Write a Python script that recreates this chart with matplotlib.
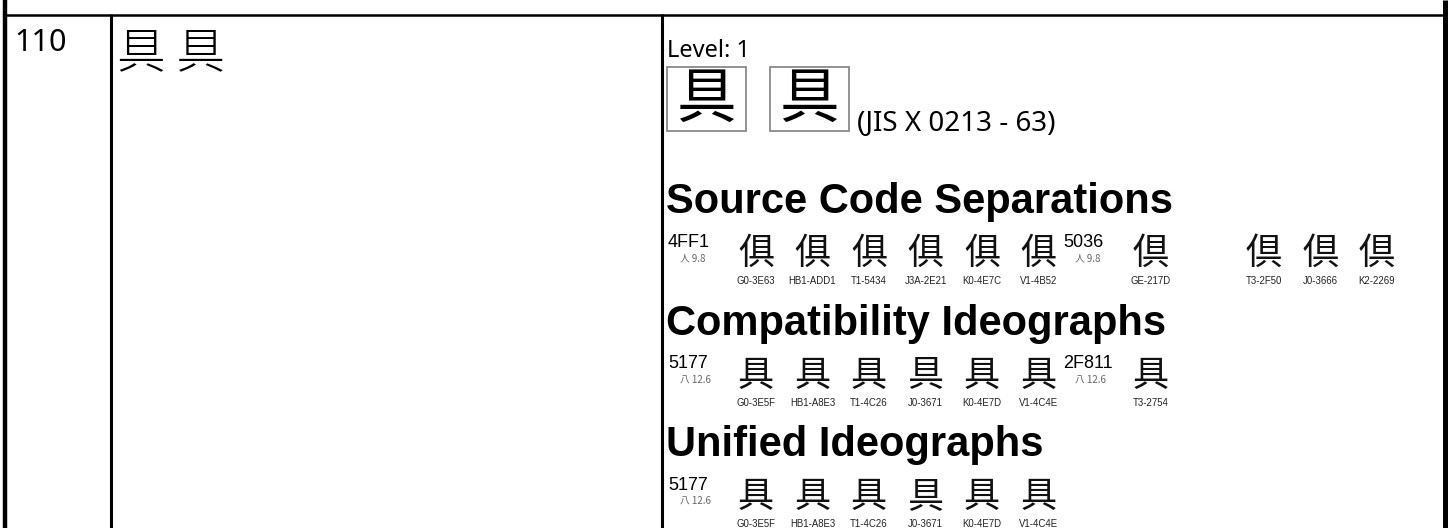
#!/usr/bin/env python3
"""Redraw one row of an ideograph variant table (entry 110, 具)."""

import matplotlib

matplotlib.use("Agg")
import matplotlib.pyplot as plt
from matplotlib import font_manager
from matplotlib.patches import Rectangle

# ---- data -------------------------------------------------------------
entry_no = "110"
entry_glyphs = ["具", "具"]
level = 1
jis_note = "(JIS X 0213 - 63)"
section_titles = ["Source Code Separations", "Compatibility Ideographs", "Unified Ideographs"]

# each section: groups of (code point, radical/stroke note, shown glyph, source ids)
# empty string = no source in that slot (order G, H, T, J, K, V)
source_codes = ["4FF1", "5036"]
source_radicals = ["人 9.8", "人 9.8"]
source_glyphs = ["俱", "倶"]
source_ids = [
    ["G0-3E63", "HB1-ADD1", "T1-5434", "J3A-2E21", "K0-4E7C", "V1-4B52"],
    ["GE-217D", "", "T3-2F50", "J0-3666", "K2-2269"],
]

compat_codes = ["5177", "2F811"]
compat_radicals = ["八 12.6", "八 12.6"]
compat_glyphs = ["具", "具"]
compat_ids = [
    ["G0-3E5F", "HB1-A8E3", "T1-4C26", "J0-3671", "K0-4E7D", "V1-4C4E"],
    ["T3-2754"],
]

unified_codes = ["5177"]
unified_radicals = ["八 12.6"]
unified_glyphs = ["具"]
unified_ids = [
    ["G0-3E5F", "HB1-A8E3", "T1-4C26", "J0-3671", "K0-4E7D", "V1-4C4E"],
]

# ---- fonts --------------------------------------------------------------
installed = {f.name for f in font_manager.fontManager.ttflist}
narrow = "Liberation Sans Narrow" if "Liberation Sans Narrow" in installed else "Liberation Sans"
label_size = 9.0 if narrow == "Liberation Sans Narrow" else 6.9

# source prefix -> regional CJK face
region_font = {
    "G": "Noto Sans CJK SC",
    "H": "Noto Sans CJK TC",
    "T": "Noto Sans CJK TC",
    "J": "Noto Sans CJK JP",
    "K": "Noto Sans CJK KR",
    "V": "Noto Sans CJK SC",
}

W, H = 1452, 528
fig = plt.figure(figsize=(W / 100, H / 100), dpi=100)
ax = fig.add_axes([0, 0, 1, 1])
ax.set_xlim(0, W)
ax.set_ylim(H, 0)
ax.axis("off")

# ---- table lines --------------------------------------------------------
ax.plot([5, 5], [0, H], color="black", lw=3.2, solid_capstyle="butt")
ax.plot([1444.5, 1444.5], [0, H], color="black", lw=3.6, solid_capstyle="butt")
ax.plot([5, 1444], [14.5, 14.5], color="black", lw=1.8, solid_capstyle="butt")
ax.plot([110.5, 110.5], [14, H], color="black", lw=2.2, solid_capstyle="butt")
ax.plot([662, 662], [14, H], color="black", lw=2.2, solid_capstyle="butt")

# ---- first two columns --------------------------------------------------
ax.text(14, 51, entry_no, fontsize=22, family="Noto Sans", weight="light",
        va="baseline", ha="left")
ax.text(117, 53, " ".join(entry_glyphs), fontsize=35, family="Noto Sans CJK JP",
        weight="light", va="center", ha="left")

# ---- third column header ----------------------------------------------
ax.text(667, 57, f"Level: {level}", fontsize=17, family="Noto Sans", va="baseline")
for bx in (667, 770):
    ax.add_patch(Rectangle((bx, 67), 79, 64, fill=False, edgecolor="#8a8a8a", lw=1.3))
    ax.text(bx + 39.5, 100, entry_glyphs[0], fontsize=43, family="Noto Sans CJK JP",
            ha="center", va="center")
ax.text(857, 131, jis_note, fontsize=20, family="Noto Sans", va="baseline")

# ---- sections -----------------------------------------------------------
sections = [
    (source_codes, source_radicals, source_glyphs, source_ids),
    (compat_codes, compat_radicals, compat_glyphs, compat_ids),
    (unified_codes, unified_radicals, unified_glyphs, unified_ids),
]
group_x = [668, 1063]
slot_step = 56.5

for s, (title, (codes, rads, glyphs, ids)) in enumerate(zip(section_titles, sections)):
    top = 121.5 * s
    ax.text(666, 213 + top, title, fontsize=30, family="Liberation Sans", weight="bold",
            va="baseline")
    for g, code in enumerate(codes):
        gx = group_x[g]
        ax.text(gx, 247 + top, code, fontsize=13, family="Liberation Sans", va="baseline")
        ax.text(gx + 12, 261 + top, rads[g], fontsize=7, color="#666666",
                family=["Noto Sans CJK JP", "DejaVu Sans"], va="baseline")
        for i, sid in enumerate(ids[g]):
            if not sid:
                continue
            cx = gx + 88 + slot_step * i
            ax.text(cx, 254 + top, glyphs[g], fontsize=26, family=region_font[sid[0]],
                    ha="center", va="center", color="#111111")
            ax.text(cx, 284 + top, sid, fontsize=label_size, family=narrow,
                    ha="center", va="baseline", color="#222222")

fig.savefig("out.png", dpi=100)
